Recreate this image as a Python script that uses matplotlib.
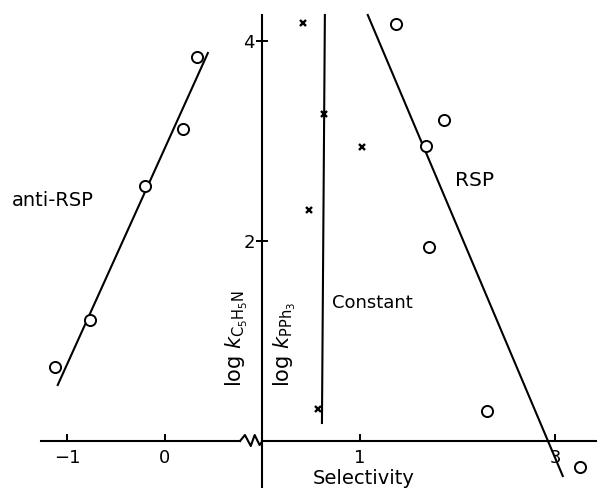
import matplotlib
matplotlib.use("Agg")
import matplotlib.pyplot as plt
import numpy as np

plt.rcParams['font.family'] = ['DejaVu Sans']
plt.rcParams['mathtext.fontset'] = 'dejavusans'

# left block (anti-RSP) is drawn on its own scale, shifted left by one unit
LEFT_SHIFT = -1.0

# anti-RSP points (left scale)
anti_x = [0.33, 0.18, -0.20, -0.77, -1.13]
anti_y = [3.84, 3.12, 2.55, 1.21, 0.74]
anti_fit_x = [0.44, -1.10]
anti_fit_y = [3.88, 0.56]

# RSP points (right scale)
rsp_x = [1.37, 1.86, 1.68, 1.71, 2.30, 3.26]
rsp_y = [4.17, 3.21, 2.95, 1.94, 0.30, -0.26]
rsp_fit_x = [1.08, 3.08]
rsp_fit_y = [4.26, -0.35]

# constant selectivity (crosses)
const_x = [0.42, 0.63, 1.02, 0.48, 0.57]
const_y = [4.18, 3.27, 2.94, 2.31, 0.32]
const_fit_x = [0.64, 0.61]
const_fit_y = [4.26, 0.18]

xtick_pos = [-2, -1, 1, 3]
xtick_labels = ['\u22121', '0', '1', '3']
ytick_pos = [2, 4]

fig = plt.figure(figsize=(5.97, 4.88), dpi=100)
ax = fig.add_axes([0, 0, 1, 1])
ax.set_xlim(-2.692, 3.431)
ax.set_ylim(-0.47, 4.41)

for s in ['top', 'right', 'bottom']:
    ax.spines[s].set_visible(False)
ax.spines['left'].set_position(('data', 0))
ax.spines['left'].set_bounds(-0.47, 4.26)
ax.spines['left'].set_linewidth(1.5)
ax.spines['bottom'].set_position(('data', 0))

lw = 1.5
# x axis with break zigzag
ax.plot([-2.27, -0.23], [0, 0], color='black', lw=lw)
zz_x = [-0.23, -0.18, -0.12, -0.08, -0.03, 0.0]
zz_y = [0, 0.06, -0.05, 0.06, -0.04, 0]
ax.plot(zz_x, zz_y, color='black', lw=lw)
ax.plot([0, 3.43], [0, 0], color='black', lw=lw)

ax.set_xticks(xtick_pos)
ax.set_xticklabels(xtick_labels)
ax.set_yticks(ytick_pos)
ax.tick_params(axis='x', direction='in', length=5, width=1.4, pad=6, labelsize=13)
ax.tick_params(axis='y', direction='inout', length=9, width=1.4, pad=1, labelsize=13)

# fit lines
ax.plot(np.array(anti_fit_x) + LEFT_SHIFT, anti_fit_y, color='black', lw=lw)
ax.plot(rsp_fit_x, rsp_fit_y, color='black', lw=lw)
ax.plot(const_fit_x, const_fit_y, color='black', lw=lw)

# points
ax.plot(np.array(anti_x) + LEFT_SHIFT, anti_y, 'o', mfc='white', mec='black',
        ms=8, mew=1.4, clip_on=False)
ax.plot(rsp_x, rsp_y, 'o', mfc='white', mec='black', ms=8, mew=1.4, clip_on=False)
ax.plot(const_x, const_y, 'x', color='black', ms=5, mew=1.7)

# labels
ax.text(-2.57, 2.41, 'anti-RSP', fontsize=14, ha='left', va='center')
ax.text(1.97, 2.61, 'RSP', fontsize=14.5, ha='left', va='center')
ax.text(0.71, 1.38, 'Constant', fontsize=13, ha='left', va='center')
ax.text(1.04, -0.37, 'Selectivity', fontsize=14, ha='center', va='center')
ax.text(-0.26, 0.54, r'log $k_{\mathrm{C_5H_5N}}$', fontsize=15, rotation=90,
        ha='center', va='bottom')
ax.text(0.23, 0.54, r'log $k_{\mathrm{PPh_3}}$', fontsize=15, rotation=90,
        ha='center', va='bottom')

fig.savefig('out.png', dpi=100, facecolor='white')
